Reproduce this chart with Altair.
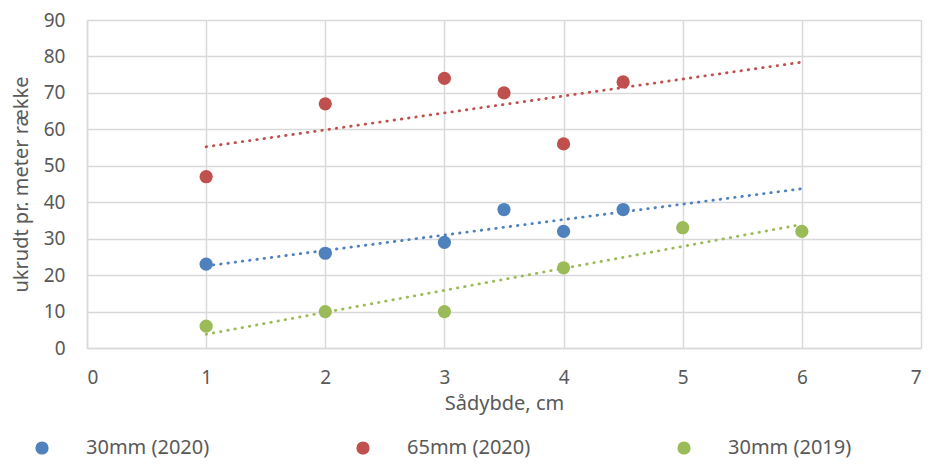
import altair as alt
import pandas as pd

series_names = ["30mm (2020)", "65mm (2020)", "30mm (2019)"]
colors = ["#4F81BD", "#C0504D", "#9BBB59"]

x_blue = [1, 2, 3, 3.5, 4, 4.5]
y_blue = [23, 26, 29, 38, 32, 38]
x_red = [1, 2, 3, 3.5, 4, 4.5]
y_red = [47, 67, 74, 70, 56, 73]
x_green = [1, 2, 3, 4, 5, 6]
y_green = [6, 10, 10, 22, 33, 32]

x_ticks = [0, 1, 2, 3, 4, 5, 6, 7]
y_ticks = [0, 10, 20, 30, 40, 50, 60, 70, 80, 90]

rows = []
for name, xs, ys in zip(series_names, [x_blue, x_red, x_green], [y_blue, y_red, y_green]):
    for xv, yv in zip(xs, ys):
        rows.append({"serie": name, "trend": name, "x": xv, "y": yv})
df = pd.DataFrame(rows)

color_of = dict(zip(series_names, colors))
trend_range = [color_of[n] for n in sorted(series_names)]

text_color = "#595959"
grid_color = "#D9D9D9"
font = "Noto Sans"

x_enc = alt.X("x:Q", title="Sådybde, cm",
              scale=alt.Scale(domain=[0, 7], nice=False),
              axis=alt.Axis(values=x_ticks, format="d", grid=True, ticks=False,
                            labelPadding=20, titlePadding=6))
y_enc = alt.Y("y:Q", title="ukrudt pr. meter række",
              scale=alt.Scale(domain=[0, 90], nice=False),
              axis=alt.Axis(values=y_ticks, format="d", grid=True, ticks=False,
                            labelPadding=22, titlePadding=12))

lines = alt.Chart(df).transform_regression(
    "x", "y", groupby=["trend"], extent=[1, 6]
).mark_line(strokeWidth=2.8, strokeDash=[0.5, 6.8], strokeCap="round").encode(
    x=x_enc,
    y=y_enc,
    stroke=alt.Stroke("trend:N", scale=alt.Scale(range=trend_range), legend=None),
    detail="trend:N",
)

points = alt.Chart(df).mark_circle(size=175, opacity=1).encode(
    x=x_enc,
    y=y_enc,
    color=alt.Color("serie:N", scale=alt.Scale(domain=series_names, range=colors),
                    legend=alt.Legend(title=None, orient="none", legendX=-55, legendY=418,
                                      direction="horizontal", columnPadding=143,
                                      labelOffset=34, symbolSize=175, symbolType="circle",
                                      symbolStrokeWidth=0, symbolOpacity=1,
                                      labelFont=font, labelFontSize=20, labelColor=text_color)),
)

chart = alt.layer(lines, points).properties(
    width=834, height=328,
    autosize=alt.AutoSizeParams(type="none"),
    padding={"left": 79, "top": 12, "right": 4, "bottom": 114},
).configure(
    font=font,
).configure_view(
    stroke=None,
).configure_axis(
    labelFont=font, titleFont=font,
    labelFontSize=19, labelColor=text_color,
    titleFontSize=20, titleColor=text_color, titleFontWeight="normal",
    gridColor=grid_color, gridWidth=1.5,
    domainColor=grid_color, domainWidth=1.5,
)

chart.save("out.html", embed_options={"renderer": "svg", "actions": False})
